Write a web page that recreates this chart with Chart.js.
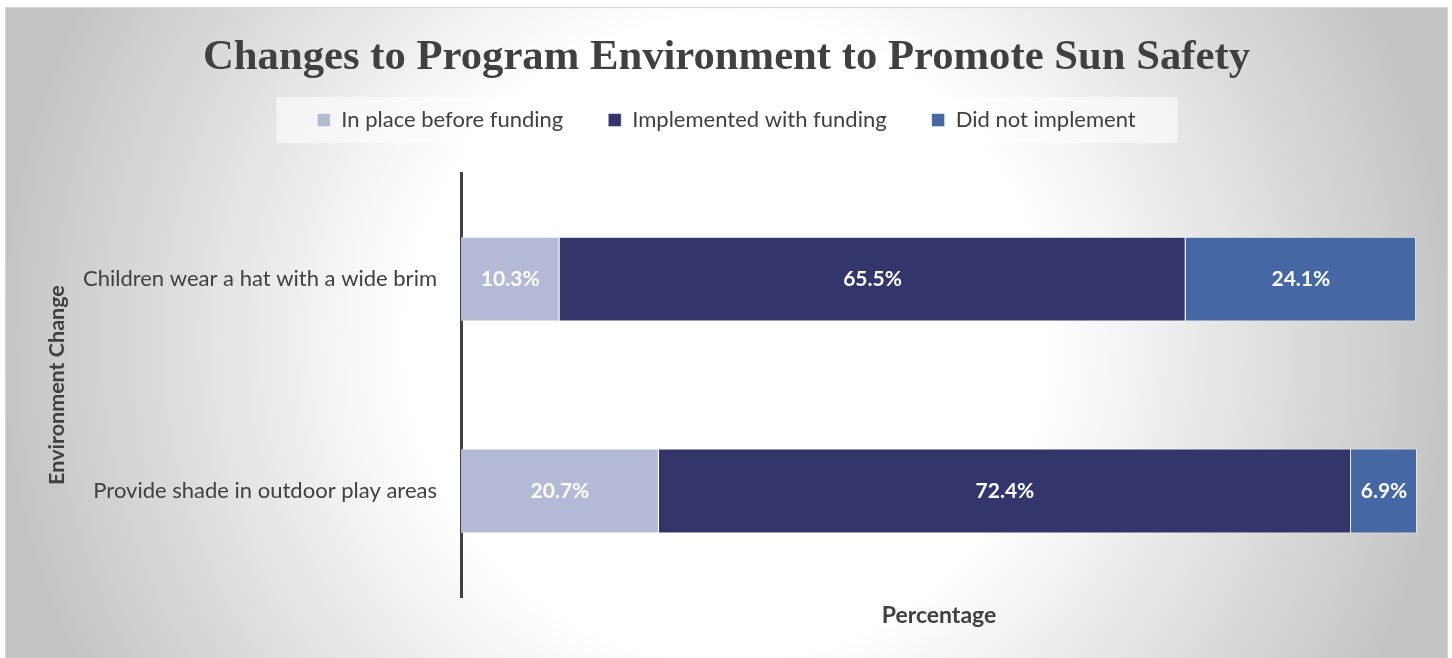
<!DOCTYPE html>
<html>
<head>
<meta charset="utf-8">
<script src="https://cdn.jsdelivr.net/npm/chart.js@4/dist/chart.umd.min.js"></script>
<style>
    html, body { margin: 0; padding: 0; background: #ffffff; }
    #frame {
        position: absolute; left: 6px; top: 8px; width: 1441px; height: 650px;
        background: radial-gradient(circle at 50% 51%, #ffffff 320px, #c4c4c4 730px);
        box-shadow: 0 0 0 1px #d4d4d4;
    }
</style>
</head>
<body>
<div id="frame"><canvas id="sunSafetyChart"></canvas></div>
<script>
    const categories = ['Children wear a hat with a wide brim', 'Provide shade in outdoor play areas'];
    const seriesNames = ['In place before funding', 'Implemented with funding', 'Did not implement'];
    const inPlaceBefore = [10.3, 20.7];
    const implementedWithFunding = [65.5, 72.4];
    const didNotImplement = [24.1, 6.9];
    const seriesColors = ['#b4b9d6', '#34366b', '#4567a3'];

    const textColor = '#404040';
    const legendPad = 45;   // horizontal gap between legend items (also used vertically by chart.js)

    // legend: fixed height, then pulled up so the row sits where it should
    const legendFix = {
        id: 'legendFix',
        beforeInit(chart) {
            const fit = chart.legend.fit;
            chart.legend.fit = function () {
                fit.bind(chart.legend)();
                this.height = 73;
            };
        },
        afterLayout(chart) {
            const shift = legendPad + 11 - 20;
            chart.legend.top -= shift;
            chart.legend.bottom -= shift;
        }
    };

    // pale box behind the legend
    const legendBack = {
        id: 'legendBack',
        beforeDraw(chart) {
            const boxes = chart.legend.legendHitBoxes;
            if (!boxes || !boxes.length) return;
            const first = boxes[0];
            const last = boxes[boxes.length - 1];
            const cy = first.top + first.height / 2;
            const x0 = first.left - 41;
            const x1 = last.left + last.width + 42;
            const ctx = chart.ctx;
            ctx.save();
            ctx.fillStyle = 'rgba(255,255,255,0.55)';
            ctx.fillRect(x0, cy - 23, x1 - x0, 46);
            ctx.restore();
        }
    };

    // value labels in the middle of each segment
    const barLabels = {
        id: 'barLabels',
        afterDatasetsDraw(chart) {
            const ctx = chart.ctx;
            ctx.save();
            ctx.font = 'bold 21px Lato';
            ctx.fillStyle = '#ffffff';
            ctx.textAlign = 'center';
            ctx.textBaseline = 'middle';
            chart.data.datasets.forEach(function (ds, i) {
                chart.getDatasetMeta(i).data.forEach(function (bar, j) {
                    const pt = bar.getCenterPoint();
                    ctx.fillText(ds.data[j].toFixed(1) + '%', pt.x, pt.y);
                });
            });
            ctx.restore();
        }
    };

    const ctx = document.getElementById('sunSafetyChart');
    new Chart(ctx, {
        type: 'bar',
        data: {
            labels: categories,
            datasets: [inPlaceBefore, implementedWithFunding, didNotImplement].map(function (vals, i) {
                return {
                    label: seriesNames[i],
                    data: vals,
                    backgroundColor: seriesColors[i],
                    borderColor: 'rgba(255,255,255,0.5)',
                    borderWidth: 1,
                    barPercentage: 0.4,
                    categoryPercentage: 1
                };
            })
        },
        options: {
            indexAxis: 'y',
            responsive: true,
            maintainAspectRatio: false,
            animation: false,
            layout: {
                padding: { left: 30, right: 30, top: 0, bottom: 29 }
            },
            plugins: {
                title: {
                    display: true,
                    text: 'Changes to Program Environment to Promote Sun Safety',
                    color: textColor,
                    font: { family: '"Liberation Serif", "Times New Roman", serif', size: 42.7, weight: 'bold', lineHeight: 1.2 },
                    padding: { top: 24.4, bottom: 16.4 }
                },
                legend: {
                    display: true,
                    labels: {
                        color: textColor,
                        font: { family: 'Lato', size: 22 },
                        boxWidth: 13,
                        boxHeight: 13,
                        padding: legendPad
                    }
                },
                tooltip: { enabled: false }
            },
            scales: {
                x: {
                    stacked: true,
                    min: 0,
                    max: 100,
                    grid: { display: false, drawTicks: false },
                    border: { display: false },
                    ticks: { display: false },
                    title: {
                        display: true,
                        text: 'Percentage',
                        color: textColor,
                        font: { family: 'Lato', size: 23, weight: 'bold', lineHeight: 1.2 },
                        padding: { top: 4.4, bottom: 0 }
                    }
                },
                y: {
                    stacked: true,
                    grid: { display: false, drawTicks: false },
                    border: { display: true, color: '#404040', width: 3 },
                    ticks: {
                        color: textColor,
                        padding: 24,
                        font: { family: 'Lato', size: 22 }
                    },
                    title: {
                        display: true,
                        text: 'Environment Change',
                        color: textColor,
                        font: { family: 'Lato', size: 21.5, weight: 'bold', lineHeight: 1.2 },
                        padding: { top: 8, bottom: 0 }
                    },
                    afterFit: function (scale) {
                        scale.width = 425;
                    }
                }
            }
        },
        plugins: [legendFix, legendBack, barLabels]
    });
</script>
</body>
</html>
